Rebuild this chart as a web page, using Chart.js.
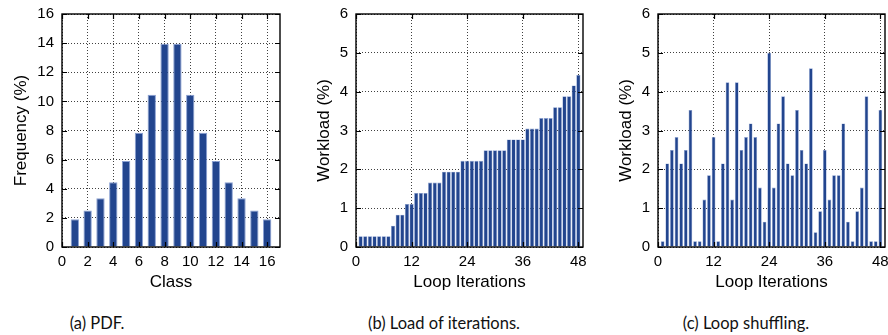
<!DOCTYPE html>
<html>
<head>
<meta charset="utf-8">
<title>Workload figures</title>
<script src="https://cdn.jsdelivr.net/npm/chart.js@4.4.0/dist/chart.umd.min.js"></script>
<style>
  body { margin:0; width:888px; height:335px; background:#fff; position:relative; overflow:hidden; }
  .panel { position:absolute; top:0; height:300px; }
  .caption { position:absolute; top:313px; width:300px; line-height:20px; font-family:Lato, sans-serif; font-size:16.5px; color:#111; text-align:center; }
</style>
</head>
<body>
<div class="panel" style="left:0;width:292px"><canvas id="pdf"></canvas></div>
<div class="panel" style="left:296px;width:296px"><canvas id="sorted"></canvas></div>
<div class="panel" style="left:596px;width:292px"><canvas id="shuffled"></canvas></div>

<div class="caption" style="left:-53px">(a) PDF.</div>
<div class="caption" style="left:294px">(b) Load of iterations.</div>
<div class="caption" style="left:596px">(c) Loop shuffling.</div>

<script>
  // (a) class frequencies
  var classes = [1, 2, 3, 4, 5, 6, 7, 8, 9, 10, 11, 12, 13, 14, 15, 16];
  var frequency = [1.9, 2.5, 3.35, 4.45, 5.9, 7.85, 10.45, 13.95, 13.95, 10.45, 7.85, 5.9, 4.45, 3.35, 2.5, 1.9];
  var pdfXTicks = [0, 2, 4, 6, 8, 10, 12, 14, 16];
  var pdfYTicks = [0, 2, 4, 6, 8, 10, 12, 14, 16];

  // (b) and (c) loop iterations
  var iterations = [1, 2, 3, 4, 5, 6, 7, 8, 9, 10, 11, 12, 13, 14, 15, 16, 17, 18, 19, 20, 21, 22, 23, 24,
                    25, 26, 27, 28, 29, 30, 31, 32, 33, 34, 35, 36, 37, 38, 39, 40, 41, 42, 43, 44, 45, 46, 47, 48];
  var loadSorted = [0.28, 0.28, 0.28, 0.28, 0.28, 0.28, 0.28, 0.55, 0.83, 0.83, 1.11, 1.11,
                    1.39, 1.39, 1.39, 1.66, 1.66, 1.66, 1.94, 1.94, 1.94, 1.94, 2.22, 2.22,
                    2.22, 2.22, 2.22, 2.49, 2.49, 2.49, 2.49, 2.49, 2.77, 2.77, 2.77, 2.77,
                    3.05, 3.05, 3.05, 3.32, 3.32, 3.32, 3.6, 3.6, 3.88, 3.88, 4.16, 4.43];
  var loadShuffled = [0.15, 2.15, 2.5, 2.83, 2.15, 2.5, 3.53, 0.15, 0.15, 1.22, 1.85, 2.83,
                      0.15, 2.15, 4.24, 1.22, 4.24, 2.5, 2.83, 3.18, 2.83, 1.53, 0.65, 5.0,
                      1.53, 3.18, 3.88, 2.15, 1.85, 3.53, 2.5, 2.15, 4.6, 0.38, 0.92, 2.5,
                      1.22, 1.85, 1.85, 3.18, 0.65, 0.15, 0.92, 1.53, 3.88, 0.15, 0.15, 3.53];
  var loopXTicks = [0, 12, 24, 36, 48];
  var loopYTicks = [0, 1, 2, 3, 4, 5, 6];

  var barColor = '#22458e';
  var chartFont = "'Liberation Sans', Arial, sans-serif";

  // gnuplot-like box with inward tick marks on all four sides
  var framePlugin = {
    id: 'frame',
    afterDatasetsDraw: function(chart) {
      var ctx = chart.ctx, a = chart.chartArea;
      var xs = chart.scales.x, ys = chart.scales.y;
      var len = 5;
      ctx.save();
      ctx.strokeStyle = '#000';
      ctx.lineWidth = 1.2;
      ctx.beginPath();
      xs.ticks.forEach(function(t) {
        var px = Math.round(xs.getPixelForValue(t.value)) + 0.5;
        ctx.moveTo(px, a.bottom); ctx.lineTo(px, a.bottom - len);
        ctx.moveTo(px, a.top); ctx.lineTo(px, a.top + len);
      });
      ys.ticks.forEach(function(t) {
        var py = Math.round(ys.getPixelForValue(t.value)) + 0.5;
        ctx.moveTo(a.left, py); ctx.lineTo(a.left + len, py);
        ctx.moveTo(a.right, py); ctx.lineTo(a.right - len, py);
      });
      ctx.stroke();
      ctx.lineWidth = 1.4;
      ctx.strokeRect(a.left, a.top, a.right - a.left, a.bottom - a.top);
      ctx.restore();
    }
  };

  function makePanel(id, xs, ys, p) {
    var pts = xs.map(function(x, i) { return {x: x, y: ys[i]}; });
    return new Chart(document.getElementById(id), {
      type: 'bar',
      data: {
        datasets: [{
          data: pts,
          backgroundColor: barColor,
          borderColor: 'rgba(125,150,205,0.9)',
          borderWidth: p.border,
          barPercentage: p.barPct,
          categoryPercentage: 1
        }]
      },
      options: {
        responsive: true,
        maintainAspectRatio: false,
        animation: false,
        layout: { padding: { left: 0, right: p.padRight, top: 14, bottom: 0 } },
        plugins: { legend: { display: false }, tooltip: { enabled: false } },
        scales: {
          x: {
            type: 'linear',
            min: 0,
            max: p.xMax,
            offset: false,
            grid: { offset: false, drawTicks: false, color: 'rgba(0,0,0,0.75)' },
            border: { display: false, dash: [1, 2] },
            afterBuildTicks: function(s) { s.ticks = p.xTicks.map(function(v) { return {value: v}; }); },
            afterFit: function(s) { s.height = 53; s.paddingLeft = 0; s.paddingRight = 0; },
            ticks: { color: '#000', padding: 6, maxRotation: 0, font: { family: chartFont, size: 15 } },
            title: { display: true, text: p.xTitle, color: '#000', padding: { top: 0, bottom: 7 },
                     font: { family: chartFont, size: 17 } }
          },
          y: {
            min: 0,
            max: p.yMax,
            grid: { drawTicks: false, color: 'rgba(0,0,0,0.75)' },
            border: { display: false, dash: [1, 2] },
            afterBuildTicks: function(s) { s.ticks = p.yTicks.map(function(v) { return {value: v}; }); },
            afterFit: function(s) { s.width = p.yWidth; s.paddingTop = 0; s.paddingBottom = 0; },
            ticks: { color: '#000', padding: 8, font: { family: chartFont, size: 15 } },
            title: { display: true, text: p.yTitle, color: '#000', padding: { top: p.yTitlePad, bottom: 0 },
                     font: { family: chartFont, size: 17 } }
          }
        }
      },
      plugins: [framePlugin]
    });
  }

  makePanel('pdf', classes, frequency, {
    xMax: 17, yMax: 16, xTicks: pdfXTicks, yTicks: pdfYTicks,
    xTitle: 'Class', yTitle: 'Frequency (%)',
    yWidth: 62, padRight: 12, yTitlePad: 11, barPct: 0.65, border: 1
  });
  makePanel('sorted', iterations, loadSorted, {
    xMax: 49, yMax: 6, xTicks: loopXTicks, yTicks: loopYTicks,
    xTitle: 'Loop Iterations', yTitle: 'Workload (%)',
    yWidth: 60, padRight: 9, yTitlePad: 18, barPct: 0.9, border: 0.6
  });
  makePanel('shuffled', iterations, loadShuffled, {
    xMax: 49, yMax: 6, xTicks: loopXTicks, yTicks: loopYTicks,
    xTitle: 'Loop Iterations', yTitle: 'Workload (%)',
    yWidth: 62, padRight: 3, yTitlePad: 20, barPct: 0.8, border: 0.6
  });
</script>
</body>
</html>
